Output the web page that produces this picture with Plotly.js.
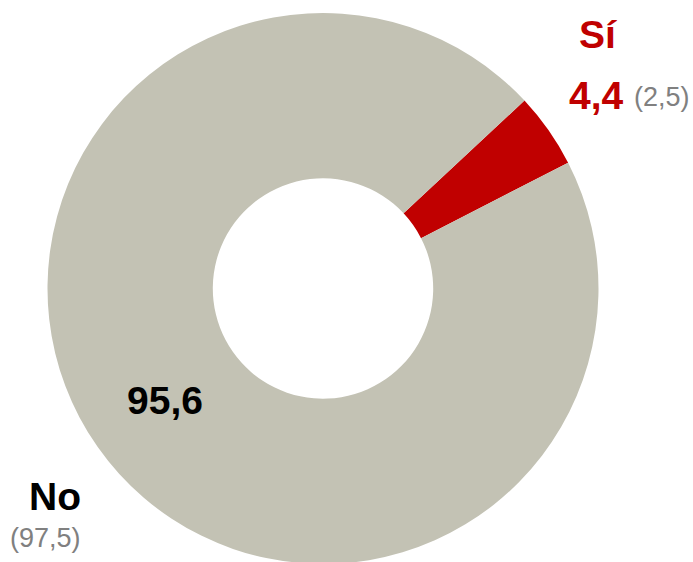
<!DOCTYPE html>
<html>
<head>
<meta charset="utf-8">
<script src="https://cdn.plot.ly/plotly-3.0.1.min.js"></script>
<style>
html, body { margin: 0; padding: 0; overflow: hidden; background: #fff; }
#chart { width: 693px; height: 564px; }
</style>
</head>
<body>
<div id="chart"></div>
<script>
// Data
const categories = ['Sí', 'No'];
const values = [4.4, 95.6];          // current share (%)
const previousValues = [2.5, 97.5];  // previous share (%) shown in brackets
const sliceColors = ['#c00000', '#c3c2b4'];

const fmt = v => v.toFixed(1).replace('.', ',');

const W = 693, H = 564, T = 13, B = 0;
const plotH = H - T - B;
const px = x => x / W;
const py = y => (H - B - y) / plotH;

const trace = {
  type: 'pie',
  labels: categories,
  values: values,
  sort: false,
  direction: 'clockwise',
  rotation: 47,
  hole: 0.4,
  textinfo: 'none',
  hoverinfo: 'none',
  marker: { colors: sliceColors, line: { width: 0 } },
  domain: { x: [0, 646 / W], y: [0, 1] },
  showlegend: false
};

const fontFam = 'Liberation Sans, Arial, sans-serif';
const BIG = 39, SMALL = 27;
const annotations = [
  { text: '<b>' + categories[0] + '</b>', x: px(597.5), y: py(35), font: { size: BIG, color: sliceColors[0], family: fontFam } },
  { text: '<b>' + fmt(values[0]) + '</b>', x: px(596), y: py(95), font: { size: BIG, color: sliceColors[0], family: fontFam } },
  { text: '(' + fmt(previousValues[0]) + ')', x: px(662), y: py(97), font: { size: SMALL, color: '#808080', family: fontFam } },
  { text: '<b>' + categories[1] + '</b>', x: px(54.5), y: py(496.5), font: { size: BIG, color: '#000000', family: fontFam } },
  { text: '(' + fmt(previousValues[1]) + ')', x: px(45.5), y: py(537.5), font: { size: SMALL, color: '#808080', family: fontFam } },
  { text: '<b>' + fmt(values[1]) + '</b>', x: px(164.5), y: py(400), font: { size: BIG, color: '#000000', family: fontFam } }
].map(a => Object.assign({ xref: 'paper', yref: 'paper', xanchor: 'center', yanchor: 'middle', showarrow: false }, a));

const layout = {
  width: W,
  height: H,
  margin: { l: 0, r: 0, t: T, b: B, pad: 0 },
  paper_bgcolor: '#ffffff',
  plot_bgcolor: '#ffffff',
  annotations: annotations
};

Plotly.newPlot('chart', [trace], layout, { staticPlot: true, displayModeBar: false });
</script>
</body>
</html>
